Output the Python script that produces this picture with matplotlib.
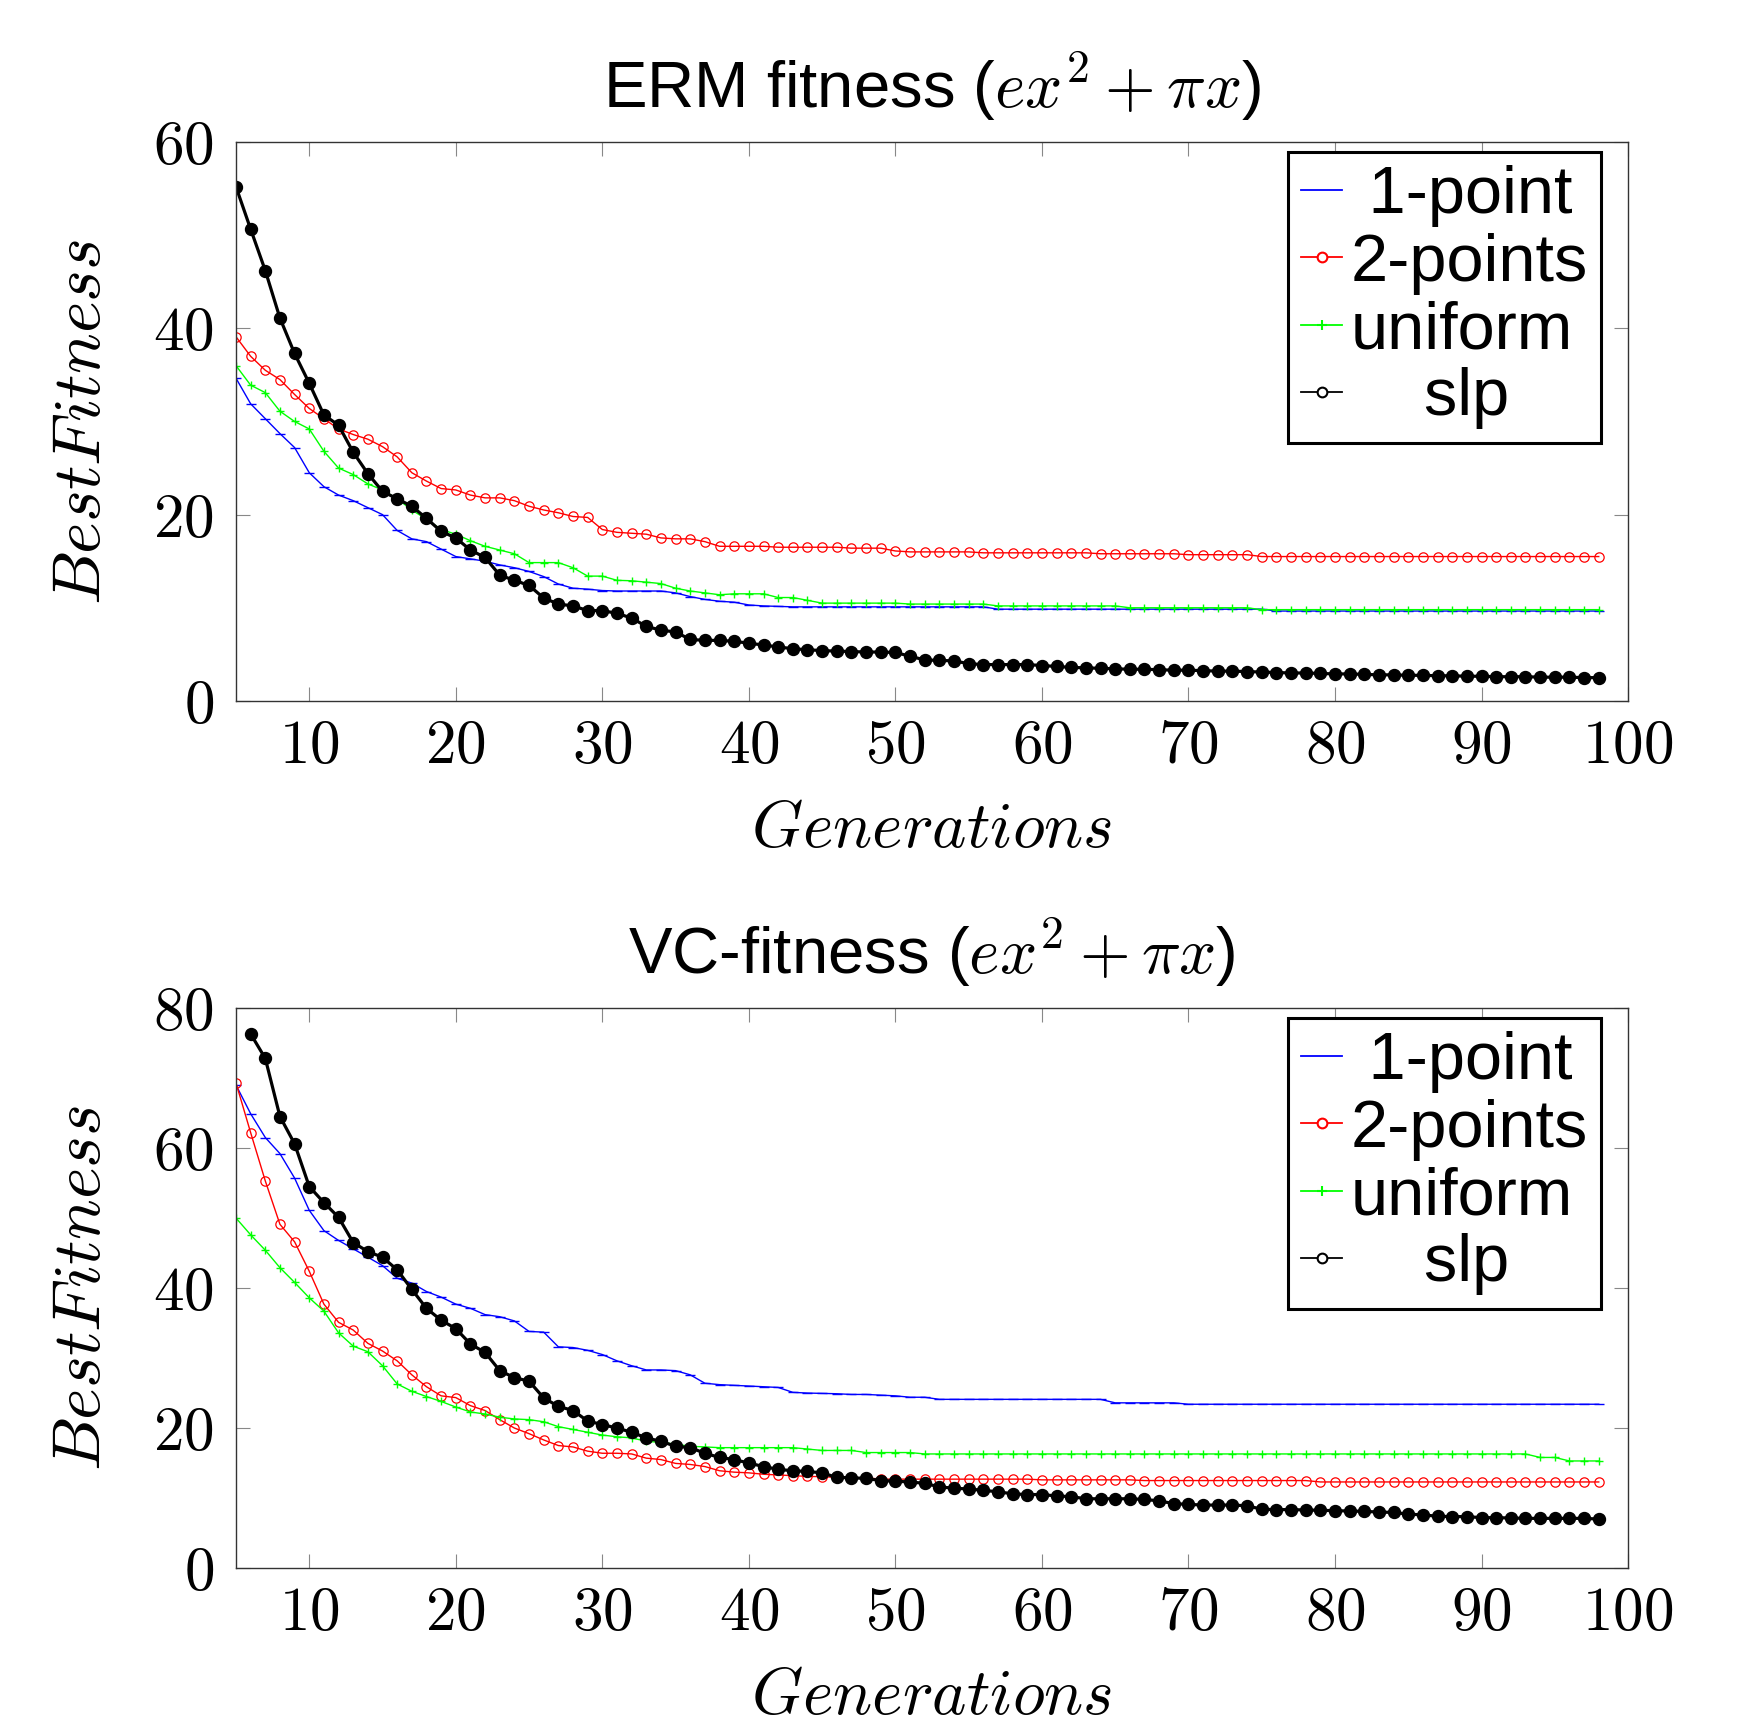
import matplotlib
matplotlib.use('Agg')
import matplotlib.pyplot as plt
from matplotlib.lines import Line2D
from matplotlib.ticker import FuncFormatter

plt.rcParams['font.family'] = ['Liberation Sans', 'DejaVu Sans']
plt.rcParams['mathtext.fontset'] = 'cm'

# generations 5..98 (slp in the VC run starts at 6)
generations = list(range(5, 99))
generations_slp_vc = list(range(6, 99))

# ERM fitness
erm_1point = [34.65, 31.9, 30.3, 28.7, 27.2, 24.5, 23.0, 22.1, 21.5, 20.75,
              20.0, 18.3, 17.4, 17.1, 16.3, 15.5, 15.25, 15.0, 14.6, 14.3,
              13.9, 13.35, 12.55, 12.1, 12.0, 11.85, 11.8, 11.8, 11.8, 11.8,
              11.6, 11.2, 10.9, 10.7, 10.6, 10.3, 10.2, 10.15, 10.1, 10.1,
              10.1, 10.1, 10.1, 10.1, 10.1, 10.1, 10.1, 10.1, 10.1, 10.1,
              10.1, 10.1, 9.85, 9.85, 9.85, 9.85, 9.85, 9.85, 9.85, 9.85,
              9.85, 9.85, 9.85, 9.85, 9.85, 9.85, 9.85, 9.85, 9.85, 9.85,
              9.85, 9.65, 9.65, 9.65, 9.65, 9.65, 9.65, 9.65, 9.65, 9.65,
              9.65, 9.65, 9.65, 9.65, 9.65, 9.65, 9.65, 9.65, 9.65, 9.65,
              9.65, 9.65, 9.65, 9.65]
erm_2points = [39.1, 37.0, 35.5, 34.5, 32.9, 31.4, 30.3, 29.2, 28.6, 28.1,
               27.3, 26.2, 24.5, 23.6, 22.8, 22.65, 22.1, 21.8, 21.8, 21.5,
               20.9, 20.5, 20.2, 19.8, 19.7, 18.4, 18.1, 18.0, 17.9, 17.5,
               17.4, 17.4, 17.1, 16.6, 16.6, 16.6, 16.6, 16.5, 16.5, 16.5,
               16.5, 16.5, 16.4, 16.4, 16.4, 16.1, 16.0, 16.0, 16.0, 16.0,
               16.0, 15.9, 15.9, 15.9, 15.9, 15.9, 15.9, 15.9, 15.9, 15.8,
               15.8, 15.8, 15.8, 15.8, 15.8, 15.7, 15.7, 15.7, 15.7, 15.7,
               15.5, 15.5, 15.5, 15.5, 15.5, 15.5, 15.5, 15.5, 15.5, 15.5,
               15.5, 15.5, 15.5, 15.5, 15.5, 15.5, 15.5, 15.5, 15.5, 15.5,
               15.5, 15.5, 15.5, 15.5]
erm_uniform = [36.0, 33.9, 33.1, 31.1, 30.0, 29.2, 26.8, 25.0, 24.3, 23.3,
               22.65, 21.7, 20.5, 19.5, 18.4, 17.9, 17.2, 16.6, 16.2, 15.8,
               14.85, 14.85, 14.85, 14.3, 13.4, 13.4, 12.95, 12.9, 12.75, 12.6,
               12.1, 11.8, 11.6, 11.4, 11.5, 11.5, 11.5, 11.1, 11.1, 10.8,
               10.5, 10.5, 10.5, 10.5, 10.5, 10.5, 10.4, 10.4, 10.4, 10.4,
               10.4, 10.4, 10.2, 10.2, 10.2, 10.2, 10.2, 10.2, 10.2, 10.2,
               10.2, 10.0, 10.0, 10.0, 10.0, 10.0, 10.0, 10.0, 10.0, 10.0,
               9.8, 9.8, 9.8, 9.8, 9.8, 9.8, 9.8, 9.8, 9.8, 9.8,
               9.8, 9.8, 9.8, 9.8, 9.8, 9.8, 9.8, 9.8, 9.8, 9.8,
               9.8, 9.8, 9.8, 9.8]
erm_slp = [55.2, 50.65, 46.2, 41.1, 37.3, 34.1, 30.7, 29.6, 26.7, 24.4,
           22.5, 21.7, 20.9, 19.6, 18.2, 17.5, 16.2, 15.4, 13.5, 12.95,
           12.4, 11.05, 10.4, 10.2, 9.7, 9.7, 9.4, 8.9, 8.0, 7.6,
           7.4, 6.6, 6.5, 6.5, 6.4, 6.2, 6.0, 5.8, 5.6, 5.5,
           5.4, 5.35, 5.3, 5.25, 5.25, 5.2, 4.8, 4.4, 4.35, 4.3,
           4.0, 3.9, 3.9, 3.9, 3.9, 3.8, 3.7, 3.6, 3.55, 3.5,
           3.45, 3.4, 3.4, 3.35, 3.3, 3.3, 3.25, 3.2, 3.2, 3.15,
           3.1, 3.05, 3.0, 3.0, 2.95, 2.9, 2.9, 2.85, 2.8, 2.8,
           2.75, 2.75, 2.7, 2.7, 2.65, 2.65, 2.6, 2.6, 2.6, 2.55,
           2.55, 2.55, 2.5, 2.5]

# VC fitness
vc_1point = [69.0, 64.9, 61.5, 59.2, 55.7, 51.1, 48.2, 46.8, 45.6, 44.4,
             43.2, 41.4, 40.7, 39.5, 38.7, 37.7, 37.1, 36.2, 35.9, 35.3,
             33.8, 33.7, 31.6, 31.5, 31.1, 30.5, 29.6, 28.9, 28.3, 28.3,
             28.2, 27.6, 26.4, 26.2, 26.1, 26.0, 25.9, 25.8, 25.1, 25.0,
             24.95, 24.9, 24.8, 24.8, 24.7, 24.6, 24.4, 24.4, 24.1, 24.1,
             24.1, 24.1, 24.1, 24.1, 24.1, 24.1, 24.1, 24.1, 24.1, 24.1,
             23.6, 23.6, 23.6, 23.6, 23.6, 23.4, 23.4, 23.4, 23.4, 23.4,
             23.4, 23.4, 23.4, 23.4, 23.4, 23.4, 23.4, 23.4, 23.4, 23.4,
             23.4, 23.4, 23.4, 23.4, 23.4, 23.4, 23.4, 23.4, 23.4, 23.4,
             23.4, 23.4, 23.4, 23.4]
vc_2points = [69.3, 62.2, 55.3, 49.1, 46.6, 42.4, 37.7, 35.1, 34.0, 32.1,
              31.0, 29.6, 27.6, 25.9, 24.6, 24.35, 23.2, 22.5, 21.2, 20.0,
              19.2, 18.3, 17.5, 17.3, 16.7, 16.4, 16.4, 16.3, 15.7, 15.5,
              14.95, 14.8, 14.5, 13.9, 13.7, 13.6, 13.4, 13.3, 13.2, 13.1,
              13.05, 12.95, 12.9, 12.9, 12.7, 12.7, 12.7, 12.7, 12.7, 12.7,
              12.7, 12.7, 12.7, 12.7, 12.7, 12.6, 12.6, 12.6, 12.6, 12.6,
              12.6, 12.6, 12.5, 12.5, 12.5, 12.5, 12.5, 12.5, 12.5, 12.5,
              12.5, 12.5, 12.5, 12.5, 12.3, 12.3, 12.3, 12.3, 12.3, 12.3,
              12.3, 12.3, 12.3, 12.3, 12.3, 12.3, 12.3, 12.3, 12.3, 12.3,
              12.3, 12.3, 12.3, 12.3]
vc_uniform = [50.0, 47.6, 45.4, 42.9, 40.8, 38.6, 36.7, 33.6, 31.7, 30.9,
              28.9, 26.3, 25.25, 24.5, 23.8, 23.0, 22.3, 22.0, 21.55, 21.3,
              21.2, 20.9, 20.2, 19.8, 19.4, 19.0, 18.75, 18.6, 18.1, 17.96,
              17.7, 17.4, 17.3, 17.2, 17.2, 17.2, 17.2, 17.2, 17.2, 17.0,
              16.8, 16.8, 16.8, 16.5, 16.5, 16.5, 16.5, 16.3, 16.3, 16.3,
              16.3, 16.3, 16.3, 16.3, 16.3, 16.3, 16.3, 16.3, 16.3, 16.3,
              16.3, 16.3, 16.3, 16.3, 16.3, 16.3, 16.3, 16.3, 16.3, 16.3,
              16.3, 16.3, 16.3, 16.3, 16.3, 16.3, 16.3, 16.3, 16.3, 16.3,
              16.3, 16.3, 16.3, 16.3, 16.3, 16.3, 16.3, 16.3, 16.3, 15.8,
              15.8, 15.3, 15.3, 15.3]
vc_slp = [76.3, 72.8, 64.5, 60.6, 54.5, 52.2, 50.1, 46.5, 45.2, 44.4,
          42.6, 39.8, 37.1, 35.4, 34.2, 32.0, 30.8, 28.2, 27.2, 26.7,
          24.3, 23.1, 22.5, 21.0, 20.5, 20.0, 19.4, 18.6, 18.1, 17.4,
          17.2, 16.4, 15.8, 15.5, 15.0, 14.5, 14.1, 13.9, 13.8, 13.6,
          12.95, 12.9, 12.8, 12.5, 12.4, 12.3, 12.1, 11.6, 11.4, 11.3,
          11.1, 10.9, 10.6, 10.5, 10.5, 10.3, 10.2, 9.9, 9.9, 9.9,
          9.9, 9.8, 9.6, 9.2, 9.1, 9.0, 9.0, 9.0, 8.9, 8.4,
          8.35, 8.35, 8.3, 8.25, 8.2, 8.15, 8.1, 8.0, 7.95, 7.7,
          7.6, 7.4, 7.35, 7.35, 7.2, 7.2, 7.15, 7.1, 7.1, 7.1,
          7.1, 7.1, 7.0]

labels = [' 1-point', '2-points', 'uniform', '    slp']
green = '#00ff00'


def draw(ax, title, ymax, one, two, uni, slp_x, slp, yticks):
    ax.plot(generations, one, color='blue', lw=1.0, marker='_', ms=7, mew=1.0)
    ax.plot(generations, two, color='red', lw=1.0, marker='o', ms=6.7,
            mfc='none', mew=0.9)
    ax.plot(generations, uni, color=green, lw=1.0, marker='+', ms=6, mew=1.0)
    ax.plot(slp_x, slp, color='black', lw=2.3, marker='o', ms=8.6)

    ax.set_xlim(5, 100)
    ax.set_ylim(0, ymax)
    ax.set_xticks(range(10, 101, 10))
    ax.set_yticks(yticks)
    fmt = FuncFormatter(lambda v, p: '$%d$' % v)
    ax.xaxis.set_major_formatter(fmt)
    ax.yaxis.set_major_formatter(fmt)
    ax.tick_params(direction='in', top=True, right=True, length=10,
                   width=0.8, color='#888888', labelsize=44)
    ax.tick_params(axis='x', pad=13)
    ax.tick_params(axis='y', pad=16)
    for s in ax.spines.values():
        s.set_color('#333333')
        s.set_linewidth(1.0)

    ax.set_title(title, fontsize=47, pad=25)
    ax.set_xlabel('$Generations$', fontsize=47, labelpad=17)
    ax.set_ylabel('$BestFitness$', fontsize=49, labelpad=28)

    handles = [
        Line2D([], [], color='blue', lw=1.3),
        Line2D([], [], color='red', lw=1.3, marker='o', ms=7, mfc='white', mew=1.5),
        Line2D([], [], color=green, lw=1.3, marker='+', ms=7, mew=1.5),
        Line2D([], [], color='black', lw=1.3, marker='o', ms=7, mfc='white', mew=1.5),
    ]
    leg = ax.legend(handles, labels, loc='upper right',
                    bbox_to_anchor=(0.9806, 0.982), borderaxespad=0,
                    fontsize=48, fancybox=False, edgecolor='black',
                    framealpha=1, handlelength=0.62, handletextpad=0.12,
                    labelspacing=0.08, borderpad=0.2)
    leg.get_frame().set_linewidth(2.2)


fig = plt.figure(figsize=(17.39, 17.26), dpi=100)
ax_top = fig.add_axes([0.1357, 0.5939, 0.8005, 0.3238])
ax_bot = fig.add_axes([0.1357, 0.0915, 0.8005, 0.3245])

draw(ax_top, r'ERM fitness ($ex^2+\pi x$)', 60, erm_1point, erm_2points,
     erm_uniform, generations, erm_slp, [0, 20, 40, 60])
draw(ax_bot, r'VC-fitness ($ex^2+\pi x$)', 80, vc_1point, vc_2points,
     vc_uniform, generations_slp_vc, vc_slp, [0, 20, 40, 60, 80])

fig.savefig('out.png', dpi=100)
